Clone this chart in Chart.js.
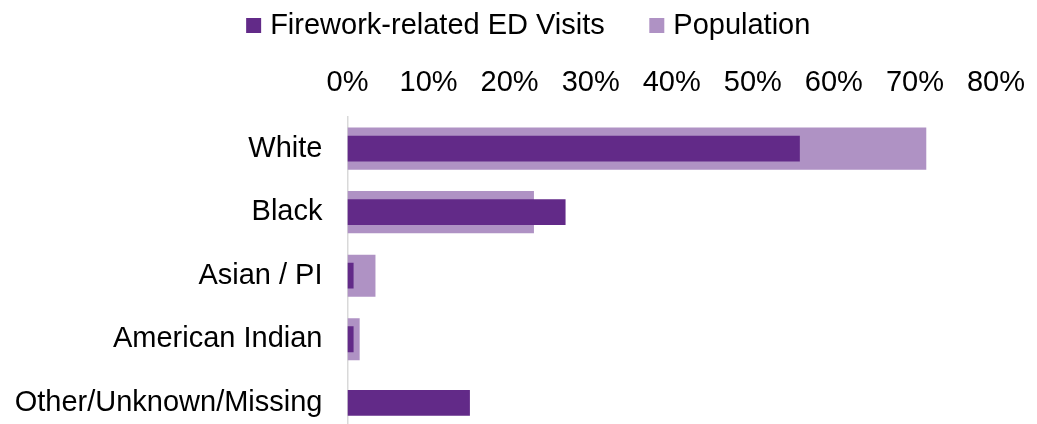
<!DOCTYPE html>
<html>
<head>
<meta charset="utf-8">
<script src="https://cdn.jsdelivr.net/npm/chart.js@4.4.1/dist/chart.umd.min.js"></script>
<style>
  html, body { margin:0; padding:0; background:#fff; overflow:hidden; }
  /* a bit wider than the window so the legend centres where the original does */
  #wrap { width:1062px; height:477px; }
</style>
</head>
<body>
<div id="wrap"><canvas id="chart"></canvas></div>
<script>
const categories = ['White', 'Black', 'Asian / PI', 'American Indian', 'Other/Unknown/Missing'];
const edVisits = [55.8, 26.9, 0.75, 0.75, 15.1];
const population = [71.4, 23.0, 3.45, 1.5, null];
const xTicks = [0, 10, 20, 30, 40, 50, 60, 70, 80];

const FONT = "'Liberation Sans', Arial, sans-serif";

new Chart(document.getElementById('chart'), {
    type: 'bar',
    data: {
        labels: categories,
        datasets: [
            { label: 'Firework-related ED Visits', data: edVisits, backgroundColor: '#622A88', barPercentage: 0.406, categoryPercentage: 1 },
            { label: 'Population', data: population, backgroundColor: '#AF92C4', barPercentage: 0.663, categoryPercentage: 1 }
        ]
    },
    options: {
        indexAxis: 'y',
        responsive: true,
        maintainAspectRatio: false,
        animation: false,
        grouped: false,
        layout: { padding: { left: 0, right: 0, top: -39, bottom: 7 } },
        plugins: {
            legend: {
                position: 'top',
                maxHeight: 93,
                labels: {
                    usePointStyle: true, pointStyle: 'rect',
                    boxWidth: 4, boxHeight: 15, padding: 50,
                    color: '#000', font: { family: FONT, size: 29 }
                }
            },
            tooltip: { enabled: false }
        },
        scales: {
            x: {
                position: 'top',
                min: 0, max: 80,
                afterBuildTicks: s => { s.ticks = xTicks.map(v => ({ value: v })); },
                ticks: { callback: v => v + '%', color: '#000', padding: 16, font: { family: FONT, size: 29 } },
                grid: { display: false, drawTicks: false },
                border: { display: false }
            },
            y: {
                ticks: { color: '#000', padding: 25, font: { family: FONT, size: 29 } },
                grid: { display: false, drawTicks: false },
                border: { display: true, color: '#d9d9d9', width: 1.5 },
                afterFit: s => { s.width = 347.5; }
            },
            // empty spacer on the right, keeps 80% at the same place
            spacer: {
                type: 'linear', position: 'right', axis: 'y',
                ticks: { display: false },
                grid: { display: false, drawTicks: false },
                border: { display: false },
                afterFit: s => { s.width = 66; }
            }
        }
    }
});
</script>
</body>
</html>
